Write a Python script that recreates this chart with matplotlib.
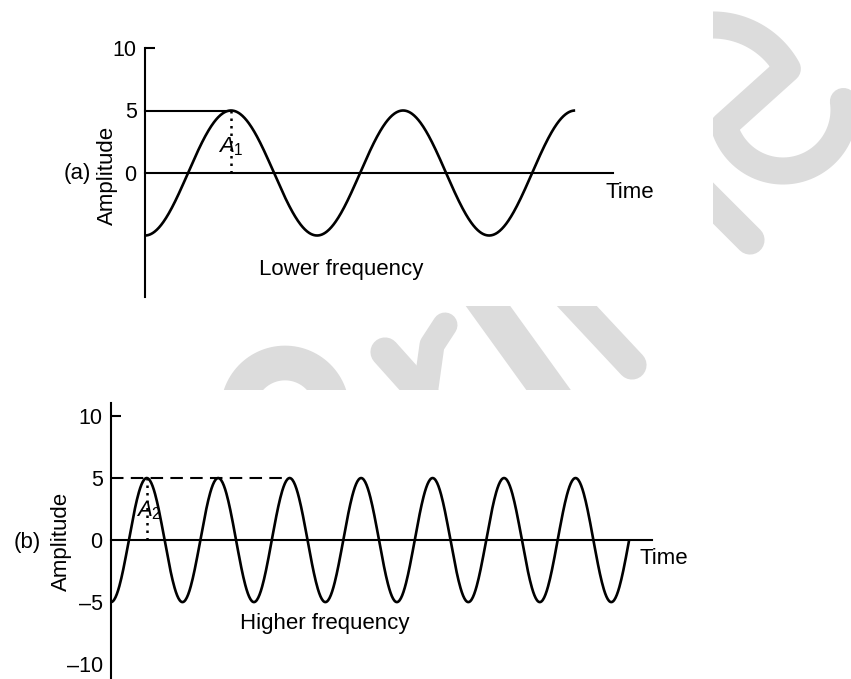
import numpy as np
import matplotlib
matplotlib.use("Agg")
from matplotlib import pyplot as plt
from matplotlib.patches import Rectangle

plt.rcParams['font.family'] = ['Liberation Sans', 'DejaVu Sans']
plt.rcParams['mathtext.fontset'] = 'custom'
plt.rcParams['mathtext.rm'] = 'Liberation Sans'
plt.rcParams['mathtext.it'] = 'Liberation Sans:italic'

# wave data: same amplitude, different number of cycles
amplitude = 5
cycles_low = 2.5      # cycles drawn in panel (a), starts at a trough, ends at a crest
cycles_high = 7.25    # cycles drawn in panel (b)
time_end_low = 2.72   # length of the time axis, in cycles
time_end_high = 7.57
ticks_low = [0, 5, 10]
ticks_high = [-10, -5, 0, 5, 10]
labels_low = ["0", "5", "10"]
labels_high = ["\u201310", "\u20135", "0", "5", "10"]

W, H = 851, 679
fig = plt.figure(figsize=(W / 100, H / 100), dpi=100)

# faint watermark behind the drawings (figure pixel coordinates)
wm = fig.add_axes([0, 0, 1, 1], zorder=0)
wm.set_xlim(0, W)
wm.set_ylim(H, 0)
wm.axis("off")
grey = "#dcdcdc"
clip_right = Rectangle((713, 0), W - 713, 400, transform=wm.transData)
clip_mid = Rectangle((0, 306), W, 84, transform=wm.transData)

th = np.radians(np.linspace(90, 29, 40))
arc_x = 713 + 85 * np.cos(th)
arc_y = 110 - 85 * np.sin(th)
bw = np.radians(np.linspace(165, -8, 60))
bowl_x = 783 + 61 * np.cos(bw)
bowl_y = 110 + 61 * np.sin(bw)
px = np.concatenate([arc_x, bowl_x])
py = np.concatenate([arc_y, bowl_y])
for xs, ys, lw, clip in [
    (px, py, 19.5, clip_right),
    ([690, 750], [180, 240], 21, clip_right),
    ([385, 428], [352, 400], 21, clip_mid),
    ([425, 432, 445], [395, 345, 325], 18, clip_mid),
    ([475, 563], [288, 410], 26, clip_mid),
    ([560, 632], [288, 365], 21, clip_mid),
]:
    ln, = wm.plot(xs, ys, color=grey, lw=lw, solid_capstyle="round",
                  solid_joinstyle="round")
    ln.set_clip_path(clip)
ring_a = np.radians(np.linspace(0, 360, 120))
ln, = wm.plot(285 + 47 * np.cos(ring_a), 410 + 47 * np.sin(ring_a),
              color=grey, lw=25)
ln.set_clip_path(clip_mid)


def panel(rect, cycles, t_end, ylim, ticks, labels, dashed):
    ax = fig.add_axes(rect, zorder=2)
    ax.set_facecolor("none")
    t = np.linspace(0, cycles, 800)
    ax.plot(t, -amplitude * np.cos(2 * np.pi * t), color="black", lw=1.9,
            clip_on=False, solid_capstyle="butt")
    ax.plot([0, t_end], [0, 0], color="black", lw=1.5, clip_on=False)
    if dashed:
        ax.plot([0, 2.5], [amplitude, amplitude], color="black", lw=1.5,
                dashes=(6, 3.5), clip_on=False)
    else:
        ax.plot([0, 0.5], [amplitude, amplitude], color="black", lw=1.5,
                clip_on=False)
    ax.plot([0.5, 0.5], [0, amplitude], color="black", lw=1.8,
            linestyle=(0, (1, 2)))
    ax.set_xlim(0, t_end)
    ax.set_ylim(*ylim)
    for s in ["top", "right", "bottom"]:
        ax.spines[s].set_visible(False)
    ax.spines["left"].set_linewidth(1.5)
    ax.set_xticks([])
    ax.set_yticks(ticks)
    ax.set_yticklabels(labels)
    ax.yaxis.remove_overlapping_locs = False
    ax.set_yticks([10], minor=True)
    ax.tick_params(axis="y", which="major", length=0, pad=6, labelsize=15.5)
    ax.tick_params(axis="y", which="minor", direction="in", length=7,
                   width=1.5)
    return ax


# panel (a): lower frequency
ax1 = panel([145 / W, 1 - 297 / H, 468 / W, 249 / H], cycles_low,
            time_end_low, (-9.92, 10.0), ticks_low, labels_low, False)
ax1.text(2.674, -1.6, "Time", fontsize=16, ha="left", va="center")
ax1.text(0.5, 2.1, "$A_1$", fontsize=16, ha="center", va="center")
ax1.text(1.14, -7.76, "Lower frequency", fontsize=16, ha="center",
         va="center")
ax1.text(-0.221, -0.2, "Amplitude", fontsize=16, rotation=90, ha="center",
         va="center")
ax1.text(-0.395, 0, "(a)", fontsize=16, ha="center", va="center")

# panel (b): higher frequency
ax2 = panel([111 / W, 0, 541 / W, 276 / H], cycles_high, time_end_high,
            (-11.2, 11.05), ticks_high, labels_high, True)
ax2.text(7.40, -1.45, "Time", fontsize=16, ha="left", va="center")
ax2.text(0.53, 2.4, "$A_2$", fontsize=16, ha="center", va="center")
ax2.text(2.99, -6.69, "Higher frequency", fontsize=16, ha="center",
         va="center")
ax2.text(-0.70, -0.08, "Amplitude", fontsize=16, rotation=90, ha="center",
         va="center")
ax2.text(-1.175, -0.16, "(b)", fontsize=16, ha="center", va="center")

fig.savefig("out.png", dpi=100)
